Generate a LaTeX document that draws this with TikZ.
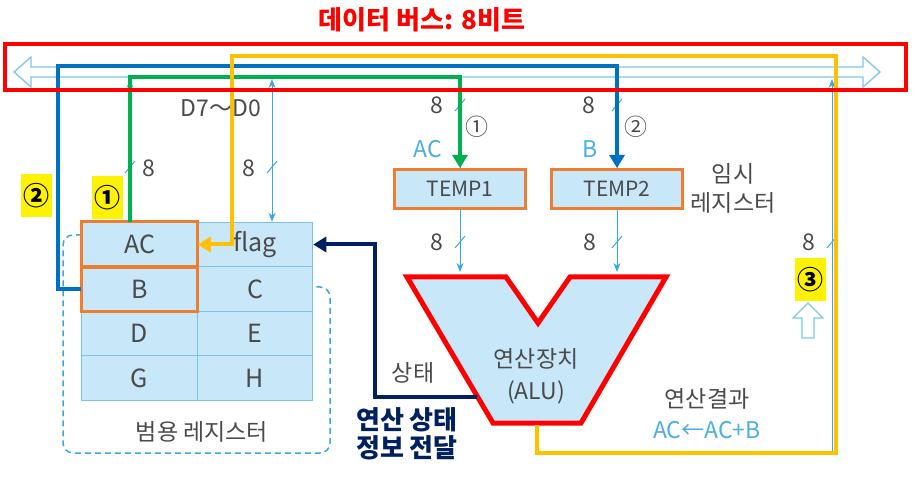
\documentclass[tikz,border=0pt]{standalone}
\usepackage{fontspec}
\setmainfont{Noto Sans CJK KR}
\usetikzlibrary{arrows.meta}

\definecolor{busred}{HTML}{FF0000}
\definecolor{wireblue}{HTML}{3AA8E0}
\definecolor{arrowblue}{HTML}{7CC6EA}
\definecolor{cellblue}{HTML}{C8E7F8}
\definecolor{gridblue}{HTML}{79C3EA}
\definecolor{textgray}{HTML}{4A4A4A}
\definecolor{lblblue}{HTML}{4BAFE3}
\definecolor{orangebox}{HTML}{ED7D31}
\definecolor{orangeflow}{HTML}{FFC000}
\definecolor{greenflow}{HTML}{00B050}
\definecolor{blueflow}{HTML}{0070C0}
\definecolor{navyflow}{HTML}{002060}

\newcommand{\slashmark}[2]{\draw[wire] (#1-5,#2+6) -- (#1+5,#2-6);}

\tikzset{
  cell/.style={draw=gridblue, line width=1pt, fill=cellblue, minimum width=115.5pt,
    minimum height=44.5pt, inner sep=0pt, text=textgray, font=\fontsize{25}{28}\selectfont},
  tempbox/.style={draw=orangebox, line width=3pt, fill=cellblue, minimum width=131pt,
    minimum height=39pt, inner sep=0pt, text=textgray, font=\fontsize{21}{24}\selectfont},
  hl/.style={draw=orangebox, line width=3pt},
  wire/.style={draw=wireblue, line width=1pt},
  wiretip/.style={-{Stealth[length=9pt,width=7pt]}},
  hollow/.style={draw=arrowblue, line width=1.3pt, line join=miter},
  lbl/.style={text=textgray, font=\fontsize{23}{29}\selectfont, inner sep=0pt},
  bluelbl/.style={text=lblblue, font=\fontsize{23}{26}\selectfont, inner sep=0pt},
  marker/.style={fill=yellow, minimum width=31pt, minimum height=43pt, inner sep=0pt,
    font=\bfseries\fontsize{26}{28}\selectfont},
  flow/.style={line width=4pt, -{Triangle[length=13pt,width=15pt]}},
  alu/.style={draw=busred, line width=5pt, fill=cellblue, line join=miter},
}

\begin{document}
\begin{tikzpicture}[x=1pt,y=-1pt]
\useasboundingbox (0,0) rectangle (913,478);

\node[text=busred, font=\bfseries\fontsize{26}{28}\selectfont] (title) at (422,20) {데이터 버스: 8비트};

% data bus
\draw[hollow] (14,72) -- (31,57) -- (31,67) -- (863,67) -- (863,57) -- (880,72)
  -- (863,87) -- (863,77) -- (31,77) -- (31,87) -- cycle;

% general registers
\draw[draw=wireblue, line width=1.5pt, dash pattern=on 6pt off 4pt, rounded corners=10pt]
  (82,235) -| (63,453) -| (330,287) -- (313,287);
\node[cell] (ac) at (139.5,244.5) {AC};
\node[cell] (flag) at (255,244.5) {flag};
\node[cell] (b) at (139.5,289) {B};
\node[cell] (c) at (255,289) {C};
\node[cell] (d) at (139.5,333.5) {D};
\node[cell] (e) at (255,333.5) {E};
\node[cell] (g) at (139.5,378) {G};
\node[cell] (h) at (255,378) {H};
\draw[hl] (ac.north west) rectangle (ac.south east);
\draw[hl] (b.north west) rectangle (b.south east);
\node[lbl] (gpr) at (202,432) {범용 레지스터};

% temporary registers
\node[tempbox] (temp1) at (460,189) {TEMP1};
\node[tempbox] (temp2) at (617,189) {TEMP2};
\node[lbl, align=center] (tmplbl) at (733,188) {임시\\레지스터};

% ALU
\draw[alu] (407,277) -- (506,277) -- (538,323) -- (570,277) -- (666,277)
  -- (581,423) -- (493,423) -- cycle;
\node[lbl, align=center, font=\fontsize{23}{32}\selectfont] (alutext) at (536,376) {연산장치\\(ALU)};
\coordinate (alustat) at (477,397);
\coordinate (alubot) at (537,425);
\coordinate (busac) at (130,79);
\coordinate (busflag) at (272,79);
\coordinate (bust1) at (460,78);
\coordinate (bust2) at (617,78);
\coordinate (busres) at (832,79);
\coordinate (resbot) at (832,452);

% wires to and from the bus
\draw[wire, wiretip] ([xshift=-9.5pt]ac.north) -- (busac);
\draw[wire, {Stealth[length=9pt,width=7pt]}-{Stealth[length=9pt,width=7pt]}] (busflag) -- ([xshift=17pt]flag.north);
\draw[wire] (bust1) -- (temp1.north);
\draw[wire] (bust2) -- (temp2.north);
\draw[wire, wiretip] (temp1.south) -- (460,272);
\draw[wire, wiretip] (temp2.south) -- (617,272);
\draw[wire, wiretip] (resbot) -- (busres);
\slashmark{130}{167}
\slashmark{272}{167}
\slashmark{460}{105}
\slashmark{617}{105}
\slashmark{460}{242}
\slashmark{617}{242}
\slashmark{832}{242}
\node[lbl] (w1) at (149,168) {8};
\node[lbl] (w2) at (249,168) {8};
\node[lbl] (w3) at (437,105) {8};
\node[lbl] (w4) at (589,105) {8};
\node[lbl] (w5) at (437,242) {8};
\node[lbl] (w6) at (590,242) {8};
\node[lbl] (w7) at (809,242) {8};
\node[lbl] (dlines) at (221,108) {D7～D0};
\node[lbl] (s1) at (477,127) {①};
\node[lbl] (s2) at (636,127) {②};
\node[bluelbl] (acin) at (428,149) {AC};
\node[bluelbl] (bin) at (590,149) {B};
\draw[hollow] (808,303) -- (823,318) -- (814,318) -- (814,338) -- (802,338)
  -- (802,318) -- (793,318) -- cycle;
\node[lbl] (status) at (413,373) {상태};
\node[lbl] (result) at (707,399) {연산결과};
\node[bluelbl] (formula) at (707,430) {AC←AC+B};

% data flow
\draw[flow, greenflow] ([xshift=-9.5pt]ac.north) -- ++(0,-145) -| (temp1.north);
\draw[flow, blueflow] (b.west) -- ++(-23,0) -- ++(0,-223) -| (temp2.north);
\draw[flow, orangeflow] (alubot) |- (836,453) |- (232,56) |- (ac.east);
\draw[flow, navyflow] (alustat) -- ++(-102,0) |- (flag.east);
\node[text=navyflow, font=\bfseries\fontsize{26}{28}\selectfont, align=center] (statinfo) at (407,434) {연산 상태\\정보 전달};

\node[marker] (m1) at (107.5,197.5) {①};
\node[marker] (m2) at (36.5,196) {②};
\node[marker] (m3) at (810,280) {③};

\draw[draw=busred, line width=4pt] (5,44) rectangle (906,90);
\end{tikzpicture}
\end{document}
